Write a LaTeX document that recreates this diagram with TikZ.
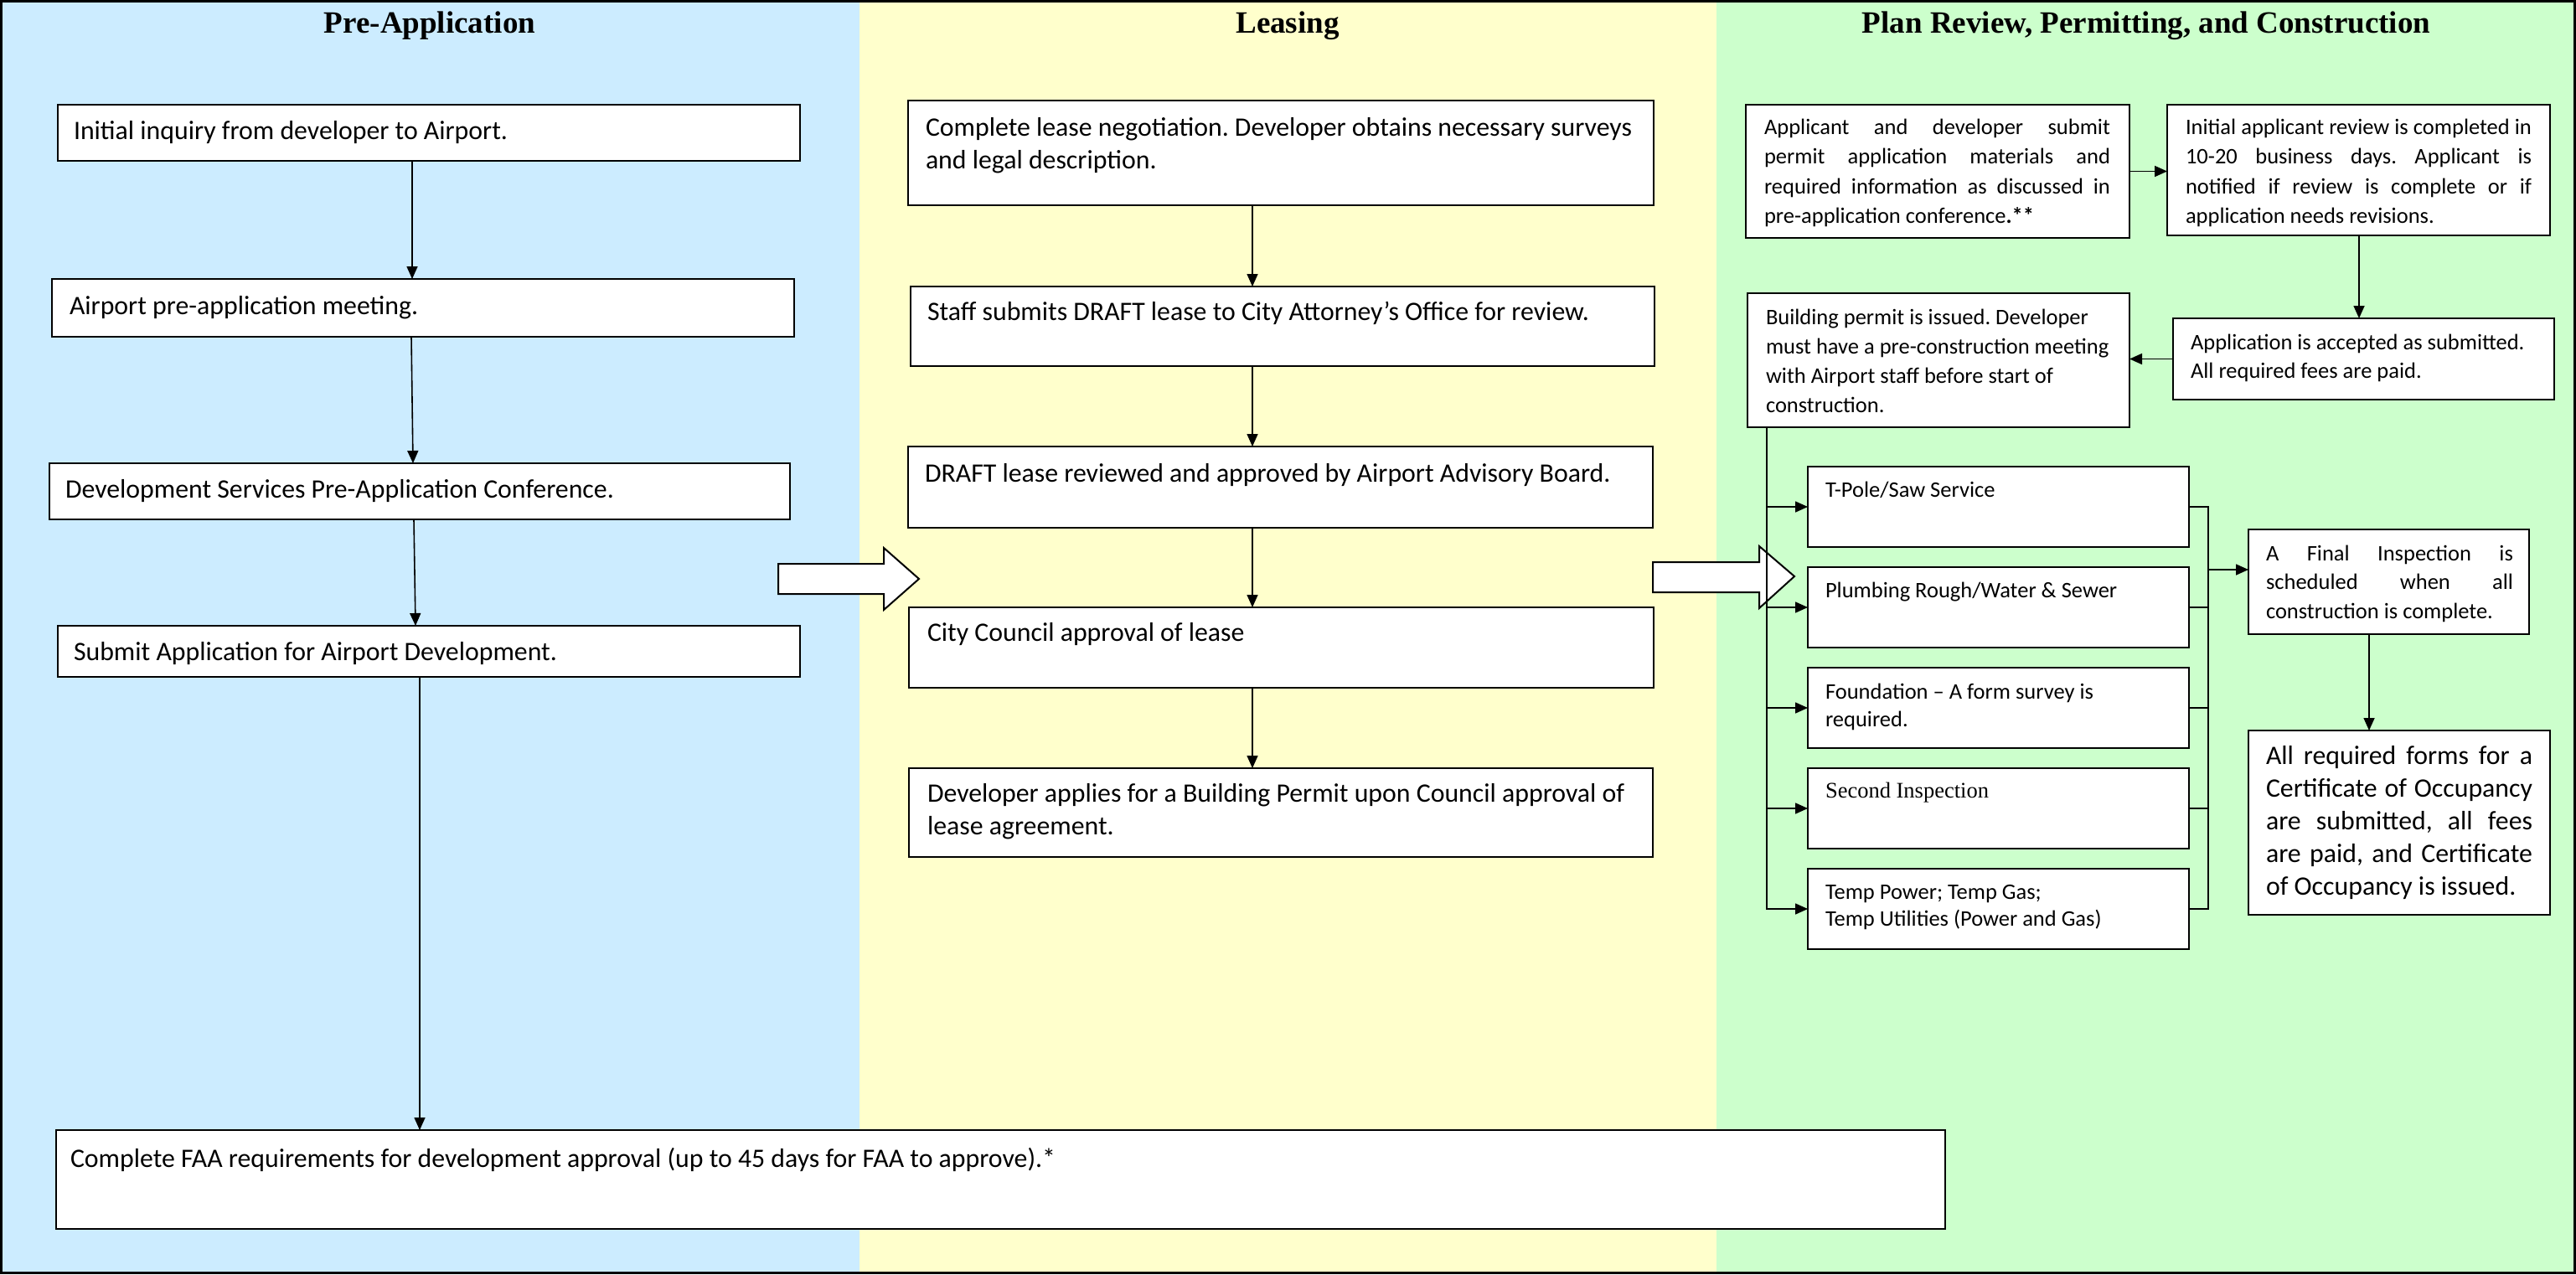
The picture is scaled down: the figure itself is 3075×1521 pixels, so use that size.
\documentclass[tikz,border=0pt]{standalone}
\usepackage{fontspec}
\setmainfont{Carlito}
\newfontfamily\tnr{Liberation Serif}
\usetikzlibrary{arrows.meta,calc}
\definecolor{pblue}{HTML}{CCECFF}
\definecolor{pyellow}{HTML}{FFFFCC}
\definecolor{pgreen}{HTML}{CCFFCC}
\frenchspacing
\tikzset{
 box/.style={draw=black, line width=2pt, fill=white, inner sep=0pt, outer sep=0pt, anchor=north west},
 tx/.style={anchor=base west, inner sep=0pt, outer sep=0pt},
 bigf/.style={font=\fontsize{31.8}{39}\selectfont},
 smf/.style={font=\fontsize{26.5}{35.5}\selectfont},
 ttl/.style={anchor=base, inner sep=0pt, font=\tnr\bfseries\fontsize{37}{44}\selectfont},
 arr/.style={line width=1.6pt, -{Triangle[length=15pt,width=13pt]}},
 ln/.style={line width=1.6pt},
 blk/.style={draw=black, line width=2pt, fill=white, line join=miter},
}
\newcommand\BX[5]{\node[box, minimum width={(#4-#2)*1pt}, minimum height={(#5-#3)*1pt}] (#1) at (#2,#3) {};}
\begin{document}
\begin{tikzpicture}[x=1pt,y=-1pt]
\useasboundingbox (0,0) rectangle (3075,1521);
\fill[pblue] (0,0) rectangle (1026,1521);
\fill[pyellow] (1026,0) rectangle (2049,1521);
\fill[pgreen] (2049,0) rectangle (3075,1521);
\draw[line width=3pt] (1.5,1.5) rectangle (3073.5,1519.5);

\node[ttl] (h1) at (513,39) {Pre-Application};
\node[ttl] (h2) at (1537,39) {Leasing};
\node[ttl] (h3) at (2562,39) {Plan Review, Permitting, and Construction};

% block arrows
\draw[blk] (929,673) -- (1055,673) -- (1055,654) -- (1097,691) -- (1055,728) -- (1055,709) -- (929,709) -- cycle;
\draw[blk] (1973,671) -- (2100,671) -- (2100,652) -- (2142,688) -- (2100,726) -- (2100,707) -- (1973,707) -- cycle;

% Pre-Application
\BX{n1}{69}{125}{955}{192}
\node[tx,bigf] (n1t) at (88,166) {Initial inquiry from developer to Airport.};
\BX{n2}{62}{333}{948}{402}
\node[tx,bigf] (n2t) at (83,375) {Airport pre-application meeting.};
\BX{n3}{59}{553}{943}{620}
\node[tx,bigf] (n3t) at (78,594) {Development Services Pre-Application Conference.};
\BX{n4}{69}{747}{955}{808}
\node[tx,bigf] (n4t) at (88,788) {Submit Application for Airport Development.};
\BX{n5}{67}{1349}{2322}{1467}
\node[tx,bigf] (n5t) at (84,1393) {Complete FAA requirements for development approval (up to 45 days for FAA to approve).*};

% Leasing
\BX{y1}{1084}{120}{1974}{245}
\node[tx,bigf] (y1t) at (1105,162) {\parbox[t]{860pt}{Complete lease negotiation. Developer obtains necessary surveys\\and legal description.}};
\BX{y2}{1087}{342}{1975}{437}
\node[tx,bigf] (y2t) at (1107,382) {Staff submits DRAFT lease to City Attorney’s Office for review.};
\BX{y3}{1084}{533}{1973}{630}
\node[tx,bigf] (y3t) at (1104,575) {DRAFT lease reviewed and approved by Airport Advisory Board.};
\BX{y4}{1085}{725}{1974}{821}
\node[tx,bigf] (y4t) at (1107,765) {City Council approval of lease};
\BX{y5}{1085}{917}{1973}{1023}
\node[tx,bigf] (y5t) at (1107,957) {\parbox[t]{860pt}{Developer applies for a Building Permit upon Council approval of\\lease agreement.}};

% Plan review
\BX{g1}{2084}{125}{2542}{284}
\node[tx,smf] (g1t) at (2106,160) {\parbox[t]{413pt}{\makebox[413pt][s]{Applicant and developer submit}\\\makebox[413pt][s]{permit application materials and}\\\makebox[413pt][s]{required information as discussed in}\\pre-application conference\textbf{.**}}};
\BX{g2}{2587}{125}{3044}{281}
\node[tx,smf] (g2t) at (2609,160) {\parbox[t]{413pt}{\makebox[413pt][s]{Initial applicant review is completed in}\\\makebox[413pt][s]{10-20 business days. Applicant is}\\\makebox[413pt][s]{notified if review is complete or if}\\application needs revisions.}};
\BX{g3}{2594}{380}{3049}{477}
\node[tx,smf] (g3t) at (2615,417) {\parbox[t]{420pt}{\fontsize{26.5}{34}\selectfont Application is accepted as submitted.\\All required fees are paid.}};
\BX{g4}{2086}{350}{2542}{510}
\node[tx,smf] (g4t) at (2108,387) {\parbox[t]{420pt}{\fontsize{26.5}{35}\selectfont Building permit is issued. Developer\\must have a pre-construction meeting\\with Airport staff before start of\\construction.}};

\BX{t1}{2158}{557}{2613}{653}
\node[tx,smf] (t1t) at (2179,593) {T-Pole/Saw Service};
\BX{t2}{2158}{677}{2613}{773}
\node[tx,smf] (t2t) at (2179,713) {Plumbing Rough/Water \& Sewer};
\BX{t3}{2158}{797}{2613}{893}
\node[tx,smf] (t3t) at (2179,834) {\parbox[t]{420pt}{\fontsize{26.5}{33}\selectfont Foundation – A form survey is\\required.}};
\BX{t4}{2158}{917}{2613}{1013}
\node[tx,smf] (t4t) at (2179,952) {\tnr Second Inspection};
\BX{t5}{2158}{1037}{2613}{1133}
\node[tx,smf] (t5t) at (2179,1073) {\parbox[t]{420pt}{\fontsize{26.5}{32}\selectfont Temp Power; Temp Gas;\\Temp Utilities (Power and Gas)}};

\BX{f1}{2684}{632}{3019}{757}
\node[tx,smf] (f1t) at (2705,669) {\parbox[t]{295pt}{\fontsize{26.5}{34.5}\selectfont\makebox[295pt][s]{A Final Inspection is}\\\makebox[295pt][s]{scheduled when all}\\construction is complete.}};
\BX{c1}{2684}{872}{3044}{1092}
\node[tx,bigf] (c1t) at (2705,912) {\parbox[t]{318pt}{\makebox[318pt][s]{All required forms for a}\\\makebox[318pt][s]{Certificate of Occupancy}\\\makebox[318pt][s]{are submitted, all fees}\\\makebox[318pt][s]{are paid, and Certificate}\\of Occupancy is issued.}};

% connectors: pre-application
\draw[arr] ($(n1.south west)+(423,0)$) -- ($(n2.north west)+(430,0)$);
\draw[arr] ($(n2.south west)+(429,0)$) -- ($(n3.north west)+(434,0)$);
\draw[arr] ($(n3.south west)+(435,0)$) -- ($(n4.north west)+(427,0)$);
\draw[arr] ($(n4.south west)+(432,0)$) -- ($(n5.north west)+(434,0)$);
% leasing
\draw[arr] ($(y1.south west)+(411,0)$) -- ($(y2.north west)+(408,0)$);
\draw[arr] ($(y2.south west)+(408,0)$) -- ($(y3.north west)+(411,0)$);
\draw[arr] ($(y3.south west)+(411,0)$) -- ($(y4.north west)+(410,0)$);
\draw[arr] ($(y4.south west)+(410,0)$) -- ($(y5.north west)+(410,0)$);
% plan review
\draw[arr] (g1.east) -- (g1.east -| g2.west);
\draw[arr] ($(g2.south west)+(229,0)$) -- ($(g3.north west)+(222,0)$);
\draw[arr] (g3.west) -- (g3.west -| g4.east);
\coordinate (bL) at (2109,0);
\coordinate (bR) at (2636,0);
\draw[arr] (g4.south -| bL) |- (t5.west);
\foreach \t in {t1,t2,t3,t4} \draw[arr] (\t.west -| bL) -- (\t.west);
\draw[ln] (t1.east) -- (t1.east -| bR) -- (t5.east -| bR) -- (t5.east);
\foreach \t in {t2,t3,t4} \draw[ln] (\t.east) -- (\t.east -| bR);
\coordinate (fin) at (2636,680);
\draw[arr] (fin) -- (fin -| f1.west);
\draw[arr] ($(f1.south west)+(144,0)$) -- ($(c1.north west)+(144,0)$);
\end{tikzpicture}
\end{document}
